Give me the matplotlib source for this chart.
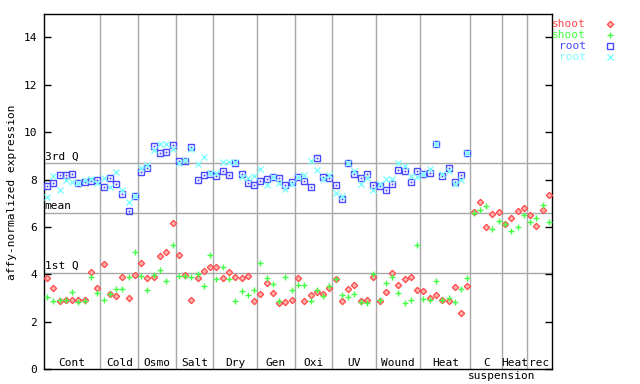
import matplotlib
matplotlib.use("Agg")
import matplotlib.pyplot as plt
import numpy as np
from matplotlib.lines import Line2D

# ---------------- data ----------------
groups = ["Cont", "Cold", "Osmo", "Salt", "Dry", "Gen", "Oxi", "UV", "Wound",
          "Heat", "C", "Heat", "rec"]
group_sizes = [9, 6, 6, 6, 7, 6, 6, 7, 7, 8, 5, 4, 4]

shoot_rep1 = [3.85, 3.42, 2.87, 2.91, 2.91, 2.91, 2.91, 4.09, 3.42,
              4.43, 3.16, 3.08, 3.88, 2.99, 3.96,
              4.47, 3.84, 3.88, 4.77, 4.93, 6.16,
              4.81, 3.96, 2.91, 3.84, 4.15, 4.32,
              4.30, 3.84, 4.09, 3.88, 3.84, 3.92, 2.87,
              3.16, 3.63, 3.20, 2.78, 2.83, 2.91,
              3.84, 2.87, 3.12, 3.25, 3.16, 3.42,
              3.80, 2.87, 3.37, 3.54, 2.87, 2.91, 3.88,
              2.87, 3.25, 4.05, 3.54, 3.80, 3.88, 3.33,
              3.29, 2.99, 3.12, 2.91, 2.87, 3.46, 2.36, 3.50,
              6.64, 7.04, 5.99, 6.54, 6.62,
              6.11, 6.37, 6.66, 6.79,
              6.49, 6.05, 6.71, 7.34]

shoot_rep2 = [3.04, 2.87, 2.91, 2.91, 3.25, 2.83, 2.87, 3.88, 3.20,
              2.91, 3.16, 3.37, 3.37, 3.88, 4.93,
              3.92, 3.33, 3.96, 4.17, 3.71, 5.23,
              3.92, 3.92, 3.88, 4.00, 3.50, 4.81,
              3.80, 4.30, 3.80, 2.87, 3.29, 3.12, 3.33,
              4.47, 3.84, 3.58, 2.87, 3.88, 3.33,
              3.54, 3.54, 2.87, 3.33, 3.08, 3.50,
              3.80, 3.12, 3.04, 3.16, 2.83, 2.78, 4.00,
              2.91, 3.63, 3.88, 3.20, 2.78, 2.91, 5.23,
              2.95, 2.91, 3.71, 2.91, 2.99, 2.83, 3.37, 3.84,
              6.58, 6.71, 6.87, 5.90, 6.24,
              6.11, 5.82, 5.99, 6.49,
              6.20, 6.37, 6.92, 6.20]

root_rep1 = [7.72, 7.84, 8.18, 8.18, 8.22, 7.84, 7.90, 7.93, 7.98,
             7.68, 8.05, 7.80, 7.38, 6.66, 7.30,
             8.31, 8.48, 9.42, 9.12, 9.16, 9.46,
             8.77, 8.77, 9.36, 7.97, 8.18, 8.22,
             8.14, 8.35, 8.18, 8.69, 8.22, 7.85, 7.77,
             7.93, 8.02, 8.10, 8.07, 7.77, 7.89,
             8.09, 7.93, 7.68, 8.90, 8.10, 8.06,
             7.76, 7.17, 8.69, 8.22, 8.06, 8.22, 7.76,
             7.72, 7.55, 7.81, 8.39, 8.36, 7.89, 8.35,
             8.24, 8.27, 9.49, 8.15, 8.48, 7.89, 8.18, 9.11]

root_rep2 = [7.25, 8.14, 7.55, 8.00, 7.91, 7.84, 7.97, 8.01, 7.87,
             8.05, 7.68, 8.31, 7.55, 7.04, 7.30,
             8.48, 8.60, 9.26, 9.50, 9.50, 9.29,
             8.69, 8.81, 9.28, 8.64, 8.94, 8.27,
             8.27, 8.76, 8.75, 8.73, 8.10, 8.07, 8.15,
             8.44, 7.77, 8.10, 7.85, 7.60, 7.82,
             8.09, 8.18, 8.77, 8.39, 8.01, 8.18,
             7.42, 7.29, 8.69, 8.35, 7.83, 8.06, 7.55,
             7.83, 8.04, 8.04, 8.69, 8.58, 8.14, 8.09,
             8.22, 8.43, 9.49, 8.22, 8.35, 7.80, 7.97, 9.11]

ref_values = [8.68, 6.61, 4.08]
ref_labels = ["3rd Q", "mean", "1st Q"]

series_labels = ["shoot", "shoot", "root", "root"]
series_colors = ["#ff4848", "#44ff44", "#4848ff", "#80ffff"]

# ---------------- plot ----------------
FONT = "DejaVu Sans Mono"
plt.rcParams['font.family'] = [FONT]
plt.rcParams['font.size'] = 8

fig = plt.figure(figsize=(6.4, 3.84), dpi=100)
ax = fig.add_axes([44 / 640, 1 - 369.3 / 384, (552 - 44) / 640, (369.3 - 13.5) / 384])

n_total = sum(group_sizes)
x_shoot = np.arange(len(shoot_rep1)) + 0.5
x_root = np.arange(len(root_rep1)) + 0.5

grid_c = "#a8a8a8"
bounds = np.cumsum(group_sizes)
for b in bounds[:-1]:
    ax.axvline(b, color=grid_c, lw=1, zorder=1)
for v, lab in zip(ref_values, ref_labels):
    ax.axhline(v, color=grid_c, lw=1, zorder=1)
    ax.text(0.1, v + 0.06, lab, ha='left', va='bottom', fontsize=8, zorder=2)

mk_shoot1 = dict(marker='D', ms=3.2, mfc='#ffb0b0', mec=series_colors[0], mew=0.9)
mk_shoot2 = dict(marker='+', ms=5.0, mec=series_colors[1], mew=1.0)
mk_root1 = dict(marker='s', ms=3.7, mfc='none', mec=series_colors[2], mew=1.0)
mk_root2 = dict(marker='x', ms=3.8, mec=series_colors[3], mew=1.0)

ax.plot(x_shoot, shoot_rep1, ls='none', zorder=3, **mk_shoot1)
ax.plot(x_shoot, shoot_rep2, ls='none', zorder=3, **mk_shoot2)
ax.plot(x_root, root_rep1, ls='none', zorder=3, **mk_root1)
ax.plot(x_root, root_rep1, ls='none', marker='s', ms=0.9, mfc=series_colors[2],
        mec=series_colors[2], mew=0.3, zorder=3)
ax.plot(x_root, root_rep2, ls='none', zorder=3, **mk_root2)

ax.set_xlim(0, n_total)
ax.set_ylim(0, 15)
ax.set_yticks(np.arange(0, 15, 2))
ax.set_xticks([])
ax.tick_params(axis='y', direction='in', length=5, width=1, left=True, right=True,
               labelright=False, pad=5, labelsize=8)
for s in ax.spines.values():
    s.set_linewidth(1.0)
    s.set_color('black')

# group labels
starts = np.concatenate([[0], bounds[:-1]])
for g, st, sz in zip(groups, starts, group_sizes):
    ax.text(st + sz / 2, 0.12, g, ha='center', va='baseline', fontsize=8, zorder=4)
c_idx = groups.index("C")
ax.text(starts[c_idx] + group_sizes[c_idx] / 2 + 2.5, -0.43, "suspension",
        ha='center', va='baseline', fontsize=8, clip_on=False)

fig.text(12 / 640, 0.5, "affy-normalized expression", rotation=90,
         ha='center', va='center', fontsize=8)

# legend (outside right)
for i, (lab, col, mk) in enumerate(zip(series_labels, series_colors,
                                       [mk_shoot1, mk_shoot2, mk_root1, mk_root2])):
    ypx = 23.7 + 11 * i
    yf = 1 - ypx / 384
    fig.text(586 / 640, yf, lab, color=col, ha='right', va='center', fontsize=8)
    fig.add_artist(Line2D([609.5 / 640], [yf], ls='none', transform=fig.transFigure, **mk))

fig.savefig("out.png", dpi=100)
